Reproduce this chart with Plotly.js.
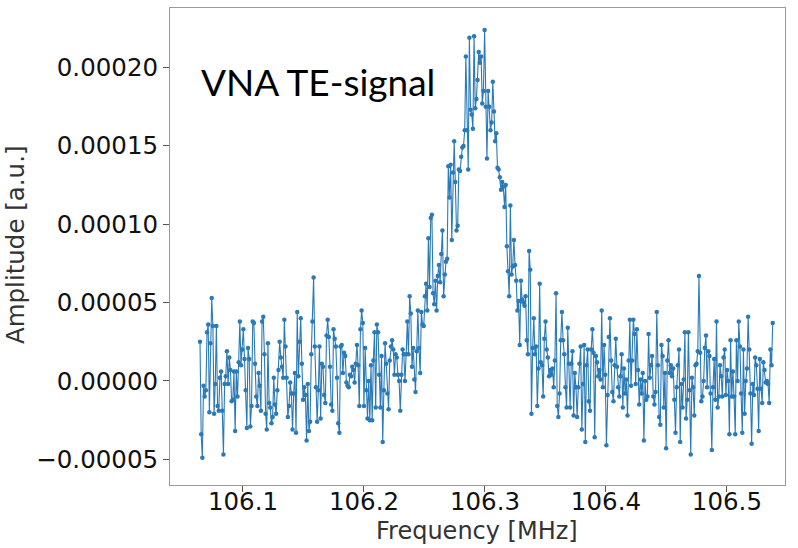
<!DOCTYPE html>
<html>
<head>
<meta charset="utf-8">
<script src="https://cdn.plot.ly/plotly-3.0.1.min.js"></script>
<style>html,body{margin:0;padding:0;background:#fff;}#chart{width:798px;height:548px;}</style>
</head>
<body>
<div id="chart"></div>
<script>
// Frequency sweep: start and step (MHz)
const freqStart = 106.0645;
const freqStep = 0.000968;

// Amplitude values in units of 1e-5 a.u.
const amplitudeE5 = [
  2.5, -3.4, -4.9, -0.3, -1.0, -0.6, 3.1, 3.6, -2.0, 2.4,
  5.3, 3.5, -2.1, -0.2, 3.5, -1.6, -1.9, 0.2, 0.6, -1.9,
  -4.7, -0.2, 0.3, 1.9, -0.2, 1.5, 0.7, -1.3, -1.2, 0.6,
  -3.2, 0.6, -1.0, 1.2, 3.8, 1.0, 2.0, 3.3, 1.4, -0.6,
  -3.0, 2.1, 1.4, -2.9, -1.6, 3.8, 3.7, 1.1, -1.0, -1.6,
  0.5, -0.3, -1.9, 3.8, 4.1, 1.7, -2.1, -3.1, 2.4, -1.4,
  -1.7, -2.7, -2.3, 0.2, -1.5, -2.1, -0.6, 0.7, 2.5, 1.5,
  0.9, 0.2, 3.9, 2.2, 0.2, -2.3, -1.6, -0.1, -0.8, -3.1,
  -0.8, 0.5, -3.3, 4.4, 0.3, 2.5, 4.0, 1.1, -1.2, -0.4,
  -0.9, -3.8, -0.2, -3.2, -2.6, 1.7, 3.8, 6.6, 2.2, -0.4,
  -2.6, -0.6, 2.2, -2.4, 1.1, 0.9, -0.9, -1.4, 2.9, 3.9,
  2.8, 0.9, -1.5, -1.9, 3.3, 2.7, 2.2, 0.2, -2.7, -3.3,
  2.2, 2.3, 0.5, 1.8, 1.6, -0.1, -0.3, -0.4, 0.4, 0.3,
  0.9, 0.7, -0.1, 1.1, 2.3, 1.0, -1.6, 3.3, 4.5, 3.7,
  -1.6, 2.1, -0.6, -2.4, 0.0, -2.5, 1.0, -2.5, 1.3, 3.1,
  -1.7, 3.6, 3.1, 0.4, -1.7, 1.6, -3.9, -0.6, 2.4, 1.1,
  -0.8, -1.8, 1.3, 2.2, 2.6, 2.0, 0.4, 1.7, 1.5, 0.4,
  0.0, -1.9, 0.4, 2.0, 1.7, 0.0, 1.7, 3.8, 1.7, 5.4,
  4.3, 0.9, 2.1, 0.1, -0.7, 1.9, 4.5, 2.1, 0.5, 4.4,
  3.6, 3.5, 5.4, 6.2, 4.5, 9.1, 6.0, 10.4, 10.6, 5.6,
  4.9, 6.4, 4.5, 6.7, 7.4, 6.3, 8.1, 9.6, 5.4, 6.8,
  7.6, 7.8, 13.7, 11.7, 13.8, 9.0, 13.3, 15.3, 12.7, 9.6,
  9.9, 13.5, 13.4, 14.3, 14.9, 15.0, 16.0, 20.7, 16.0, 13.5,
  21.9, 17.3, 17.0, 16.1, 22.0, 17.4, 18.0, 19.2, 21.0, 20.3,
  20.7, 17.7, 18.5, 22.4, 17.5, 14.2, 18.5, 17.5, 16.0, 16.5,
  19.1, 17.2, 15.3, 15.8, 13.6, 13.5, 13.0, 12.2, 12.7, 12.4,
  11.1, 12.5, 8.6, 7.0, 5.4, 11.2, 6.8, 7.3, 9.0, 7.4,
  6.4, 4.5, 5.1, 2.3, 6.4, 5.2, 5.0, 4.8, 5.4, 2.6,
  1.7, 8.3, 7.1, -2.1, 2.1, 4.0, 1.7, 2.2, -1.6, 0.8,
  6.2, 1.2, 1.0, -1.0, 2.7, 3.8, 2.0, 1.5, 0.3, 0.7,
  0.4, 0.8, -0.4, 1.3, 5.6, -1.6, -2.3, -0.8, 2.6, 4.4,
  2.6, 1.7, -0.4, -1.7, 3.4, 1.1, -1.7, 1.1, 1.9, -2.2,
  0.5, -0.4, -2.3, -0.4, 1.1, 2.2, -3.1, -0.2, 2.3, -3.9,
  1.0, 2.0, -1.3, -1.9, 2.0, 3.3, 1.8, -3.6, 1.6, 1.2,
  0.3, 0.7, 0.1, 4.5, -0.4, 2.3, 0.4, -4.1, -0.9, 2.8,
  4.0, 1.3, -0.7, -1.3, 1.0, 2.7, 0.9, -0.4, -1.0, 0.3,
  1.7, -1.7, 0.8, -0.8, 0.1, -2.2, 1.3, 3.9, -0.3, 1.3,
  3.9, 3.0, -0.2, 3.3, 0.7, -1.5, 0.1, -0.8, 0.5, -3.8,
  0.0, -1.2, -1.0, 3.0, 0.2, 1.0, 1.6, -1.0, -1.5, -0.7,
  4.4, 1.0, -2.3, -2.8, 2.3, 1.6, -1.7, 0.5, -4.3, 1.3,
  2.6, 0.5, 1.0, 0.3, 0.8, -1.2, -3.3, -0.4, 1.0, 2.0,
  -3.9, -0.2, -1.7, 0.1, 3.1, -2.4, -1.2, 3.1, -0.6, -4.7,
  0.2, -0.4, -2.2, 1.0, 1.1, 1.9, 6.7, 1.8, -1.3, -1.0,
  0.0, 2.1, 2.9, -0.4, 1.9, 1.6, -0.8, -4.4, -0.4, 1.4,
  -1.2, 3.8, -1.7, -1.0, 1.0, 0.3, -1.0, 1.5, 2.0, -0.9,
  0.7, 0.0, -3.4, 2.6, -1.0, 0.6, -1.0, -3.4, 2.6, 0.0,
  3.8, 2.2, -0.8, -3.3, 2.0, -2.1, 0.0, 0.8, 4.1, 2.0,
  -0.8, -4.0, -0.2, -0.9, 1.5, 1.0, -0.5, -3.2, 1.4, -0.5,
  -1.4, 1.2, 0.7, -0.1, 0.0, -0.2, -1.4, 2.0, 1.0, 3.7
];

const xTickVals = [106.1, 106.2, 106.3, 106.4, 106.5];
const xTickText = ["106.1", "106.2", "106.3", "106.4", "106.5"];
const yTickVals = [-0.00005, 0, 0.00005, 0.0001, 0.00015, 0.0002];
const yTickText = ["\u22120.00005", "0.00000", "0.00005", "0.00010", "0.00015", "0.00020"];

const amplitude = amplitudeE5.map(v => v * 1e-5);

const trace = {
  type: 'scatter',
  mode: 'lines+markers',
  x0: freqStart,
  dx: freqStep,
  y: amplitude,
  line: {color: '#2a7ab8', width: 1.1},
  marker: {color: '#2a7ab8', size: 4.5},
  hoverinfo: 'skip'
};

const font = 'DejaVu Sans, sans-serif';
const layout = {
  width: 798,
  height: 548,
  margin: {l: 170, r: 13, t: 8, b: 63},
  paper_bgcolor: '#fff',
  plot_bgcolor: '#fff',
  showlegend: false,
  xaxis: {
    range: [106.0397, 106.548],
    tickvals: xTickVals,
    ticktext: xTickText,
    ticks: 'outside',
    ticklen: 6,
    tickwidth: 1,
    tickcolor: '#555',
    ticklabelstandoff: -11,
    showline: true,
    mirror: true,
    linecolor: '#999',
    linewidth: 1,
    showgrid: false,
    zeroline: false,
    tickfont: {family: font, size: 24.5, color: '#111'}
  },
  yaxis: {
    range: [-6.64e-5, 23.8e-5],
    tickvals: yTickVals,
    ticktext: yTickText,
    ticks: 'outside',
    ticklen: 6,
    tickwidth: 1,
    tickcolor: '#555',
    showline: true,
    mirror: true,
    linecolor: '#999',
    linewidth: 1,
    showgrid: false,
    zeroline: false,
    tickfont: {family: font, size: 24.5, color: '#111'}
  },
  annotations: [
    {
      text: 'VNA TE-signal',
      xref: 'paper', yref: 'paper',
      x: 0.047, y: 0.845,
      xanchor: 'left', yanchor: 'middle',
      showarrow: false,
      font: {family: 'Lato, Carlito, sans-serif', size: 37, color: '#000'}
    },
    {
      text: 'Frequency [MHz]',
      xref: 'paper', yref: 'paper',
      x: 0.499, y: -0.096,
      xanchor: 'center', yanchor: 'middle',
      showarrow: false,
      font: {family: font, size: 24, color: '#333'}
    },
    {
      text: 'Amplitude [a.u.]',
      xref: 'paper', yref: 'paper',
      x: -0.252, y: 0.503,
      xanchor: 'center', yanchor: 'middle',
      textangle: -90,
      showarrow: false,
      font: {family: font, size: 24.5, color: '#333'}
    }
  ]
};

Plotly.newPlot('chart', [trace], layout, {displayModeBar: false, staticPlot: true});
</script>
</body>
</html>
